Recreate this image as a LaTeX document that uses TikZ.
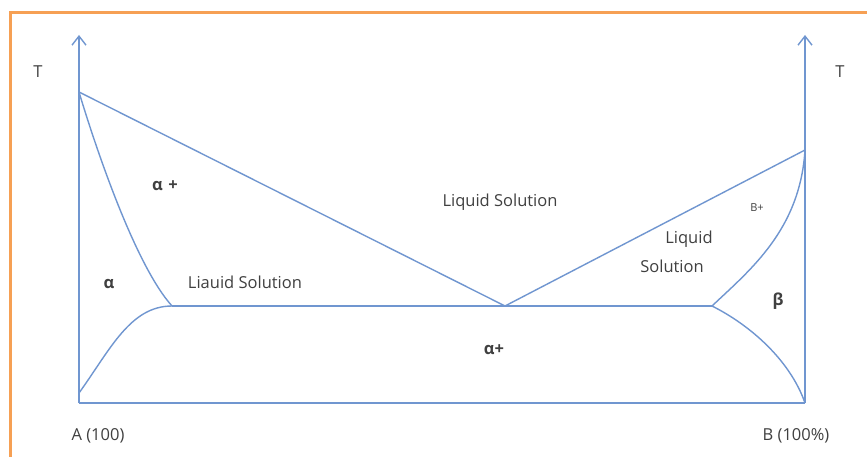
\documentclass[tikz,border=0pt]{standalone}
\usepackage{fontspec}
\setmainfont{Open Sans}
\usetikzlibrary{arrows.meta}
\definecolor{lineblue}{RGB}{112,150,208}
\definecolor{frameorange}{RGB}{246,160,84}
\definecolor{txt}{RGB}{64,64,64}
\tikzset{
  curve/.style={draw=lineblue, line width=1.4pt},
  axis/.style={draw=lineblue, line width=1.4pt, -{Straight Barb[length=9pt,width=14pt,line width=1.4pt]}},
  lbl/.style={text=txt, font=\fontsize{16.5}{19}\selectfont, inner sep=0pt},
  blbl/.style={text=txt, font=\fontsize{16.5}{19}\selectfont\bfseries, inner sep=0pt}
}
\begin{document}
\begin{tikzpicture}[x=1pt,y=-1pt]
\useasboundingbox (0,0) rectangle (867,457);
\fill[white] (0,0) rectangle (867,457);
% orange frame
\draw[frameorange, line width=3pt] (10,470) -- (10,13) -- (880,13);
% coordinates
\coordinate (O) at (79,403);
\coordinate (Atop) at (79,35);
\coordinate (Bbot) at (805,403);
\coordinate (Btop) at (805,35);
\coordinate (TA) at (79,92);
\coordinate (TB) at (805,150);
\coordinate (E) at (505,306);
\coordinate (L) at (172,306);
\coordinate (R) at (712,306);
\coordinate (A0) at (79,393);
% axes
\draw[axis] (O) -- (Atop);
\draw[axis] (Bbot) -- (Btop);
\draw[curve] (O) -- (Bbot);
% liquidus
\draw[curve] (TA) -- (E) -- (TB);
% eutectic line
\draw[curve] (L) -- (R);
% left solidus and solvus
\draw[curve] (TA) .. controls (97,152) and (136,266) .. (L);
\draw[curve] (A0) .. controls (110,350) and (130,306) .. (L);
% right solidus and solvus
\draw[curve] (TB) .. controls (800,230) and (750,270) .. (R);
\draw[curve] (R) .. controls (750,325) and (790,360) .. (Bbot);
% labels
\node[lbl] (tl) at (38,72) {T};
\node[lbl] (tr) at (840,72) {T};
\node[blbl] (ap) at (165,186) {α\,\,+};
\node[blbl] (a) at (109,284) {α};
\node[lbl] (ls1) at (245,282) {Liauid Solution};
\node[lbl] (ls2) at (500,202) {Liquid Solution};
\node[lbl] (ls3) at (689,239) {Liquid};
\node[lbl] (ls4) at (672,266) {Solution};
\node[text=txt, font=\fontsize{11}{13}\selectfont, inner sep=0pt] (bp) at (757,208) {B+};
\node[blbl] (b) at (778,301) {β};
\node[blbl] (ap2) at (494,350) {α+};
\node[lbl] (A) at (98,436) {A (100)};
\node[lbl] (B) at (796,436) {B (100\%)};
\end{tikzpicture}
\end{document}
